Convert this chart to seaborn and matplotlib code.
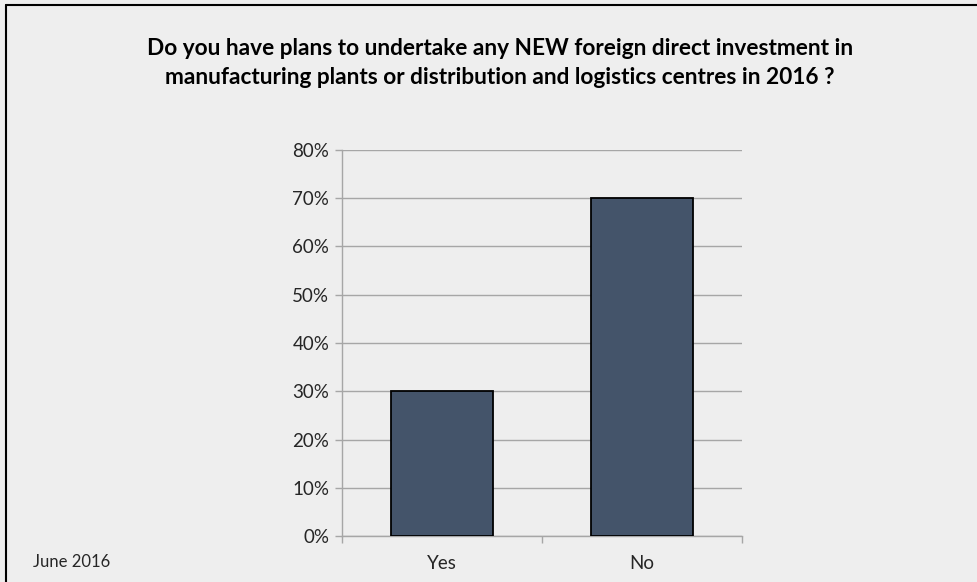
import matplotlib
matplotlib.use("Agg")
import matplotlib.pyplot as plt
from matplotlib.lines import Line2D
from matplotlib.ticker import FuncFormatter, FixedLocator
import pandas as pd
import seaborn as sns

answers = ["Yes", "No"]
share_pct = [30, 70]
y_ticks = [0, 10, 20, 30, 40, 50, 60, 70, 80]

title = ("Do you have plans to undertake any NEW foreign direct investment in\n"
         "manufacturing plants or distribution and logistics centres in 2016 ?")
footnote = "June 2016"

bg = "#EEEEEE"
bar_color = "#44546A"
grid_color = "#A6A6A6"

sns.set_theme(style="white")
plt.rcParams["font.family"] = ["Lato", "DejaVu Sans"]

df = pd.DataFrame({"answer": answers, "share": share_pct})

fig = plt.figure(figsize=(9.78, 5.82), dpi=100, facecolor=bg)
ax = fig.add_axes([0.3494, 0.0790, 0.409, 0.6633], facecolor=bg)

sns.barplot(data=df, x="answer", y="share", ax=ax, color=bar_color,
            saturation=1, width=0.508, edgecolor="black", linewidth=1.3,
            zorder=3)

ax.set_xlim(-0.5, 1.5)
ax.set_ylim(0, 80)
ax.set_yticks(y_ticks)
ax.yaxis.set_major_formatter(FuncFormatter(lambda v, _: f"{v:.0f}%"))
ax.yaxis.grid(True, color=grid_color, linewidth=1.0, zorder=0)
ax.set_axisbelow(True)

ax.set_xlabel("")
ax.set_ylabel("")

for side in ("top", "right"):
    ax.spines[side].set_visible(False)
for side in ("left", "bottom"):
    ax.spines[side].set_color(grid_color)
    ax.spines[side].set_linewidth(1.0)

ax.tick_params(axis="y", which="major", left=True, length=5, width=1.0,
               color=grid_color, labelsize=13.5, labelcolor="#262626", pad=4)
ax.tick_params(axis="x", which="major", bottom=False, labelsize=13.5,
               labelcolor="#262626", pad=8)
ax.xaxis.set_minor_locator(FixedLocator([-0.5, 0.5, 1.5]))
ax.tick_params(axis="x", which="minor", bottom=True, length=5, width=1.0,
               color=grid_color)

fig.text(0.511, 0.8918, title, ha="center", va="center", fontsize=16.3,
         fontweight="bold", color="black", linespacing=1.45)
fig.text(0.034, 0.034, footnote, ha="left", va="center", fontsize=12,
         color="#262626")

# slide frame: left and top edges
x0, y1 = 6 / 978, 1 - 5 / 582
fig.add_artist(Line2D([x0, x0], [0, y1], transform=fig.transFigure,
                      color="black", linewidth=1.5))
fig.add_artist(Line2D([x0, 1], [y1, y1], transform=fig.transFigure,
                      color="black", linewidth=1.5))

fig.savefig("out.png", dpi=100, facecolor=bg)
